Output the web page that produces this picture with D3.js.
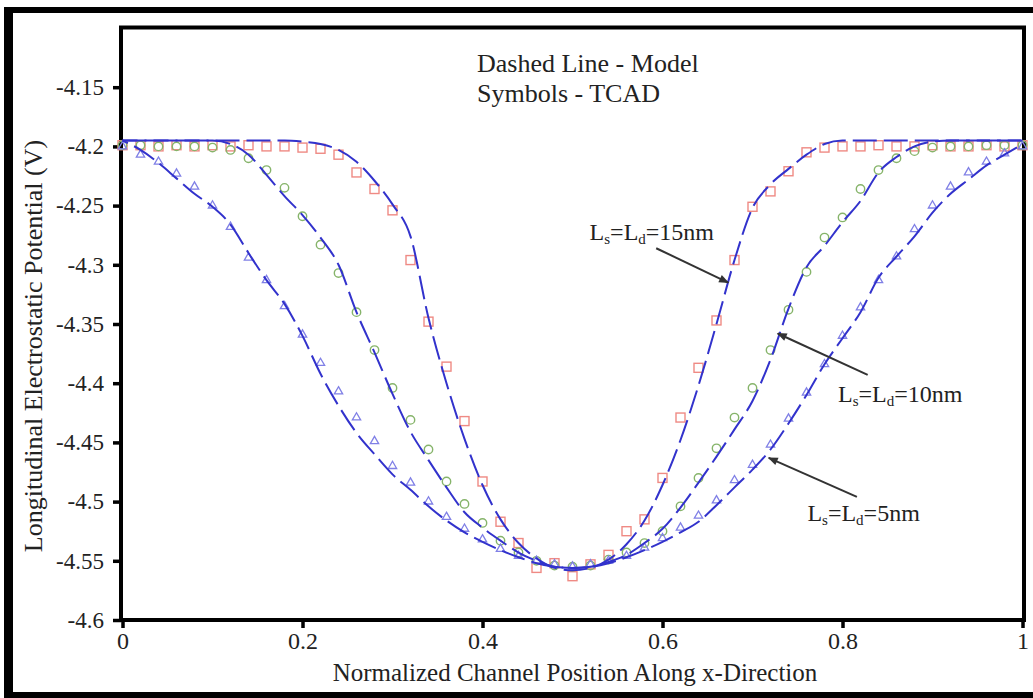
<!DOCTYPE html>
<meta charset="utf-8">
<style>

body {
  margin: 0;
  background: #fff;
}

text {
  font-family: "Liberation Serif", "DejaVu Serif", Tinos, serif;
  fill: #222;
}

.model {
  fill: none;
  stroke: #3232cc;
  stroke-width: 2;
  stroke-dasharray: 24,7;
  stroke-linejoin: round;
}

.axis .domain {
  display: none;
}

.axis line {
  stroke: #000;
  stroke-width: 3.5;
}

</style>
<svg width="1033" height="698"></svg>
<script src="https://d3js.org/d3.v7.min.js"></script>
<script>

var svg = d3.select("svg"),
    width = +svg.attr("width"),
    height = +svg.attr("height");

var serif = "'Liberation Serif', 'DejaVu Serif', serif";

// normalized channel positions of the TCAD / model samples
var positions = [0, 0.02, 0.04, 0.06, 0.08, 0.1, 0.12, 0.14, 0.16, 0.18,
  0.2, 0.22, 0.24, 0.26, 0.28, 0.3, 0.32, 0.34, 0.36, 0.38,
  0.4, 0.42, 0.44, 0.46, 0.48, 0.5, 0.52, 0.54, 0.56, 0.58,
  0.6, 0.62, 0.64, 0.66, 0.68, 0.7, 0.72, 0.74, 0.76, 0.78,
  0.8, 0.82, 0.84, 0.86, 0.88, 0.9, 0.92, 0.94, 0.96, 0.98, 1];

// TCAD symbols
var tcad15 = [-4.199, -4.199, -4.200, -4.199, -4.200, -4.199, -4.200, -4.199, -4.200, -4.200,
  -4.201, -4.202, -4.207, -4.222, -4.236, -4.254, -4.296, -4.348, -4.386, -4.432,
  -4.483, -4.517, -4.535, -4.556, -4.552, -4.563, -4.553, -4.545, -4.525, -4.515,
  -4.480, -4.429, -4.387, -4.347, -4.296, -4.251, -4.238, -4.221, -4.205, -4.201,
  -4.200, -4.200, -4.199, -4.200, -4.200, -4.199, -4.200, -4.200, -4.199, -4.200, -4.199];

var tcad10 = [-4.199, -4.199, -4.200, -4.200, -4.200, -4.201, -4.203, -4.210, -4.220, -4.235,
  -4.259, -4.283, -4.307, -4.340, -4.372, -4.404, -4.431, -4.456, -4.483, -4.502,
  -4.518, -4.533, -4.543, -4.550, -4.554, -4.555, -4.554, -4.549, -4.543, -4.535,
  -4.525, -4.504, -4.480, -4.455, -4.429, -4.404, -4.372, -4.338, -4.306, -4.277,
  -4.260, -4.236, -4.220, -4.210, -4.204, -4.201, -4.200, -4.200, -4.199, -4.199, -4.199];

var tcad5 = [-4.200, -4.207, -4.213, -4.223, -4.234, -4.250, -4.268, -4.294, -4.313, -4.335,
  -4.359, -4.383, -4.407, -4.429, -4.449, -4.470, -4.484, -4.500, -4.513, -4.523,
  -4.532, -4.540, -4.546, -4.550, -4.553, -4.555, -4.553, -4.550, -4.546, -4.539,
  -4.531, -4.522, -4.512, -4.499, -4.482, -4.469, -4.452, -4.430, -4.408, -4.384,
  -4.360, -4.336, -4.313, -4.293, -4.270, -4.250, -4.234, -4.222, -4.213, -4.206, -4.200];

// model (dashed lines)
var model15 = [-4.195, -4.195, -4.195, -4.195, -4.195, -4.195, -4.195, -4.195, -4.195, -4.195,
  -4.196, -4.198, -4.203, -4.213, -4.229, -4.249, -4.276, -4.345, -4.400, -4.447,
  -4.486, -4.515, -4.535, -4.548, -4.556, -4.558, -4.556, -4.549, -4.536, -4.516,
  -4.486, -4.448, -4.402, -4.350, -4.296, -4.252, -4.232, -4.219, -4.207, -4.198,
  -4.195, -4.195, -4.195, -4.195, -4.195, -4.195, -4.195, -4.195, -4.195, -4.195, -4.195];

var model10 = [-4.195, -4.195, -4.195, -4.195, -4.195, -4.195, -4.198, -4.207, -4.224, -4.242,
  -4.258, -4.277, -4.300, -4.340, -4.374, -4.409, -4.441, -4.465, -4.488, -4.509,
  -4.522, -4.533, -4.543, -4.550, -4.555, -4.556, -4.555, -4.551, -4.545, -4.535,
  -4.523, -4.505, -4.484, -4.462, -4.439, -4.415, -4.380, -4.337, -4.302, -4.284,
  -4.264, -4.246, -4.222, -4.209, -4.200, -4.196, -4.195, -4.195, -4.195, -4.195, -4.195];

var model5 = [-4.195, -4.203, -4.214, -4.227, -4.240, -4.251, -4.266, -4.290, -4.313, -4.333,
  -4.360, -4.392, -4.419, -4.442, -4.460, -4.477, -4.490, -4.504, -4.516, -4.526,
  -4.534, -4.541, -4.547, -4.552, -4.555, -4.556, -4.555, -4.552, -4.547, -4.541,
  -4.534, -4.526, -4.517, -4.503, -4.488, -4.473, -4.456, -4.434, -4.410, -4.384,
  -4.362, -4.340, -4.311, -4.293, -4.276, -4.256, -4.240, -4.228, -4.216, -4.207, -4.198];

var yTicks = [-4.6, -4.55, -4.5, -4.45, -4.4, -4.35, -4.3, -4.25, -4.2, -4.15];
var xTicks = [0, 0.2, 0.4, 0.6, 0.8, 1];

var legendLines = ["Dashed Line - Model", "Symbols - TCAD"];

// annotation: label, text anchor (data), arrow tail and head (data)
var noteNames = ["15nm", "10nm", "5nm"];
var noteText = [[0.519, -4.279], [0.795, -4.416], [0.761, -4.516]];
var noteTail = [[0.593, -4.286], [0.828, -4.393], [0.816, -4.496]];
var noteHead = [[0.673, -4.315], [0.728, -4.358], [0.718, -4.463]];

var x = d3.scaleLinear()
    .domain([0, 1])
    .range([122.5, 1022.5]);

var y = d3.scaleLinear()
    .domain([-4.6, -4.1])
    .range([620, 28]);

// outer frame of the figure
svg.append("g")
  .selectAll("line")
  .data([[4, 10, width, 10, 6], [8.5, 7, 8.5, height, 9], [4, 695, width, 695, 6]])
  .enter().append("line")
    .attr("x1", function(d) { return d[0]; })
    .attr("y1", function(d) { return d[1]; })
    .attr("x2", function(d) { return d[2]; })
    .attr("y2", function(d) { return d[3]; })
    .attr("stroke", "#000")
    .attr("stroke-width", function(d) { return d[4]; });

// axes
var fmt = function(d) { return String(d); };

svg.append("g")
    .attr("class", "axis")
    .attr("transform", "translate(121,0)")
    .call(d3.axisLeft(y).tickValues(yTicks).tickSize(8).tickPadding(9).tickFormat(fmt))
    .attr("font-family", serif)
    .attr("font-size", 23)
    .selectAll("text")
    .attr("fill", "#222");

svg.append("g")
    .attr("class", "axis")
    .attr("transform", "translate(0,620)")
    .call(d3.axisBottom(x).tickValues(xTicks).tickSize(8).tickPadding(4).tickFormat(fmt))
    .attr("font-family", serif)
    .attr("font-size", 24)
    .selectAll("text")
    .attr("fill", "#222");

svg.append("rect")
    .attr("x", 121)
    .attr("y", y(-4.1) - 0.5)
    .attr("width", 1024 - 121)
    .attr("height", 620 - y(-4.1) + 0.5)
    .attr("fill", "none")
    .attr("stroke", "#000")
    .attr("stroke-width", 4);

// TCAD symbols
function pts(vals) {
  return vals.map(function(v, i) { return [positions[i], v]; });
}

svg.append("g")
  .selectAll("rect")
  .data(pts(tcad15))
  .enter().append("rect")
    .attr("x", function(d) { return x(d[0]) - 4.5; })
    .attr("y", function(d) { return y(d[1]) - 4.5; })
    .attr("width", 9)
    .attr("height", 9)
    .attr("fill", "none")
    .attr("stroke", "#ef8a84")
    .attr("stroke-width", 1.4);

svg.append("g")
  .selectAll("circle")
  .data(pts(tcad10))
  .enter().append("circle")
    .attr("cx", function(d) { return x(d[0]); })
    .attr("cy", function(d) { return y(d[1]); })
    .attr("r", 4.2)
    .attr("fill", "none")
    .attr("stroke", "#86b46a")
    .attr("stroke-width", 1.4);

svg.append("g")
  .selectAll("path")
  .data(pts(tcad5))
  .enter().append("path")
    .attr("transform", function(d) { return "translate(" + x(d[0]) + "," + y(d[1]) + ")"; })
    .attr("d", d3.symbol(d3.symbolTriangle, 30))
    .attr("fill", "none")
    .attr("stroke", "#8080e6")
    .attr("stroke-width", 1.3);

// model lines
var line = d3.line()
    .curve(d3.curveMonotoneX)
    .x(function(d) { return x(d[0]); })
    .y(function(d) { return y(d[1]); });

svg.append("g")
  .selectAll("path")
  .data([model15, model10, model5])
  .enter().append("path")
    .attr("class", "model")
    .attr("stroke-dashoffset", function(d, i) { return i * 9; })
    .attr("d", function(d) { return line(pts(d)); });

// legend text
svg.append("g")
  .selectAll("text")
  .data(legendLines)
  .enter().append("text")
    .attr("x", 477)
    .attr("y", function(d, i) { return 72 + i * 30; })
    .attr("font-family", serif)
    .attr("font-size", 26)
    .text(function(d) { return d; });

// annotations
svg.append("defs").append("marker")
    .attr("id", "head")
    .attr("viewBox", "0 -5 10 10")
    .attr("refX", 9)
    .attr("markerWidth", 12)
    .attr("markerHeight", 10)
    .attr("markerUnits", "userSpaceOnUse")
    .attr("orient", "auto")
  .append("path")
    .attr("d", "M0,-4L10,0L0,4Z")
    .attr("fill", "#333");

var notes = svg.append("g")
  .selectAll("g")
  .data(noteNames)
  .enter().append("g");

notes.append("line")
    .attr("x1", function(d, i) { return x(noteTail[i][0]); })
    .attr("y1", function(d, i) { return y(noteTail[i][1]); })
    .attr("x2", function(d, i) { return x(noteHead[i][0]); })
    .attr("y2", function(d, i) { return y(noteHead[i][1]); })
    .attr("stroke", "#333")
    .attr("stroke-width", 2)
    .attr("marker-end", "url(#head)");

var label = notes.append("text")
    .attr("x", function(d, i) { return x(noteText[i][0]); })
    .attr("y", function(d, i) { return y(noteText[i][1]); })
    .attr("font-family", serif)
    .attr("font-size", 24);

label.append("tspan").text("L");
label.append("tspan").attr("font-size", 15).attr("dy", 4).text("s");
label.append("tspan").attr("dy", -4).text("=L");
label.append("tspan").attr("font-size", 15).attr("dy", 4).text("d");
label.append("tspan").attr("dy", -4).text(function(d) { return "=" + d; });

// axis titles
svg.append("text")
    .attr("x", 575)
    .attr("y", 681)
    .attr("text-anchor", "middle")
    .attr("font-family", serif)
    .attr("font-size", 25)
    .text("Normalized Channel Position Along x-Direction");

svg.append("text")
    .attr("transform", "translate(42,346) rotate(-90)")
    .attr("text-anchor", "middle")
    .attr("font-family", serif)
    .attr("font-size", 26)
    .text("Longitudinal Electrostatic Potential (V)");

</script>
